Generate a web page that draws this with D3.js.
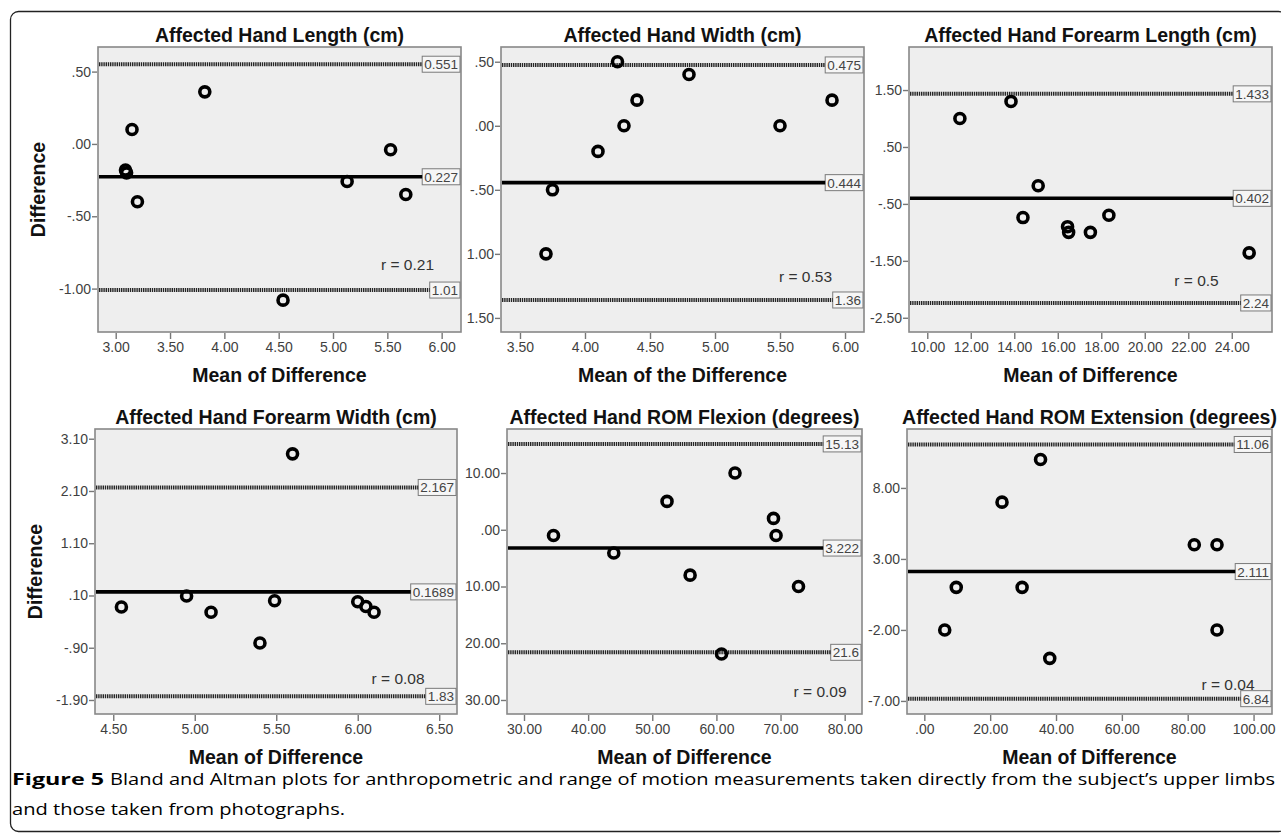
<!DOCTYPE html>
<html lang="en">
<head>
    <style>
        body { margin: 0; background: #fff; }
        svg { display: block; }
        text { font-family: "Liberation Sans", Arial, sans-serif; }
    </style>
</head>
<body>
    <svg width="1281" height="834"></svg>
    <script src="https://cdn.jsdelivr.net/npm/d3@7"></script>
    <script>
        /************************************************************************************
        * Data
        ************************************************************************************/
        const panelTitles = [
            "Affected Hand Length (cm)",
            "Affected Hand Width (cm)",
            "Affected Hand Forearm Length (cm)",
            "Affected Hand Forearm Width (cm)",
            "Affected Hand ROM Flexion (degrees)",
            "Affected Hand ROM Extension (degrees)"
        ];
        const xTitles = ["Mean of Difference", "Mean of the Difference", "Mean of Difference",
                         "Mean of Difference", "Mean of Difference", "Mean of Difference"];

        // points of each plot: mean (x) and difference (y)
        const handLengthX = [3.09, 3.10, 3.15, 3.20, 3.82, 4.54, 5.13, 5.53, 5.67];
        const handLengthY = [-0.18, -0.20, 0.10, -0.40, 0.36, -1.08, -0.26, -0.04, -0.35];
        const handWidthX = [3.70, 3.75, 4.10, 4.25, 4.30, 4.40, 4.80, 5.50, 5.90];
        const handWidthY = [-1.00, -0.50, -0.20, 0.50, 0.00, 0.20, 0.40, 0.00, 0.20];
        const forearmLengthX = [11.5, 13.85, 14.4, 15.1, 16.45, 16.5, 17.5, 18.35, 24.8];
        const forearmLengthY = [1.00, 1.30, -0.74, -0.18, -0.90, -1.00, -1.00, -0.70, -1.36];
        const forearmWidthX = [4.55, 4.95, 5.10, 5.40, 5.49, 5.60, 6.00, 6.05, 6.10];
        const forearmWidthY = [-0.12, 0.09, -0.22, -0.81, 0.00, 2.81, -0.02, -0.11, -0.22];
        const flexionX = [34.6, 44.0, 52.3, 55.9, 60.8, 62.9, 68.9, 69.3, 72.8];
        const flexionY = [-1.0, -4.1, 5.0, -8.0, -21.9, 10.0, 2.0, -1.0, -10.0];
        const extensionX = [6.2, 9.7, 23.6, 29.7, 35.3, 38.1, 82.0, 88.9, 88.9];
        const extensionY = [-2.0, 1.0, 7.0, 1.0, 10.0, -4.0, 4.0, 4.0, -2.0];

        const pointsX = [handLengthX, handWidthX, forearmLengthX, forearmWidthX, flexionX, extensionX];
        const pointsY = [handLengthY, handWidthY, forearmLengthY, forearmWidthY, flexionY, extensionY];

        // limits of agreement and mean difference
        const upperLimit = [0.551, 0.475, 1.433, 2.167, 15.13, 11.06];
        const meanDiff = [-0.227, -0.444, -0.402, 0.1689, -3.222, 2.111];
        const lowerLimit = [-1.01, -1.36, -2.24, -1.83, -21.6, -6.84];
        const upperLabels = ["0.551", "0.475", "1.433", "2.167", "15.13", "11.06"];
        const meanLabels = ["0.227", "0.444", "0.402", "0.1689", "3.222", "2.111"];
        const lowerLabels = ["1.01", "1.36", "2.24", "1.83", "21.6", "6.84"];
        const rLabels = ["r = 0.21", "r = 0.53", "r = 0.5", "r = 0.08", "r = 0.09", "r = 0.04"];

        // tick values and tick labels
        const xTicks = [
            [3, 3.5, 4, 4.5, 5, 5.5, 6],
            [3.5, 4, 4.5, 5, 5.5, 6],
            [10, 12, 14, 16, 18, 20, 22, 24],
            [4.5, 5, 5.5, 6, 6.5],
            [30, 40, 50, 60, 70, 80],
            [0, 20, 40, 60, 80, 100]
        ];
        const xTickLabels = [
            ["3.00", "3.50", "4.00", "4.50", "5.00", "5.50", "6.00"],
            ["3.50", "4.00", "4.50", "5.00", "5.50", "6.00"],
            ["10.00", "12.00", "14.00", "16.00", "18.00", "20.00", "22.00", "24.00"],
            ["4.50", "5.00", "5.50", "6.00", "6.50"],
            ["30.00", "40.00", "50.00", "60.00", "70.00", "80.00"],
            [".00", "20.00", "40.00", "60.00", "80.00", "100.00"]
        ];
        const yTicks = [
            [0.5, 0, -0.5, -1],
            [0.5, 0, -0.5, -1, -1.5],
            [1.5, 0.5, -0.5, -1.5, -2.5],
            [3.1, 2.1, 1.1, 0.1, -0.9, -1.9],
            [10, 0, -10, -20, -30],
            [8, 3, -2, -7]
        ];
        const yTickLabels = [
            [".50", ".00", "-.50", "-1.00"],
            [".50", ".00", "-.50", "1.00", "1.50"],
            ["1.50", ".50", "-.50", "-1.50", "-2.50"],
            ["3.10", "2.10", "1.10", ".10", "-.90", "-1.90"],
            ["10.00", ".00", "10.00", "20.00", "30.00"],
            ["8.00", "3.00", "-2.00", "-7.00"]
        ];

        /************************************************************************************
        * Layout
        ************************************************************************************/
        const boxes = [
            { left: 98, right: 461, top: 47, bottom: 332 },
            { left: 501, right: 864, top: 47, bottom: 332 },
            { left: 909, right: 1272, top: 47, bottom: 332 },
            { left: 95, right: 457, top: 429, bottom: 714 },
            { left: 507, right: 862, top: 429, bottom: 714 },
            { left: 907, right: 1272, top: 429, bottom: 714 }
        ];
        const xDomains = [[2.837, 6.178], [3.354, 6.146], [9.16, 25.85], [4.388, 6.609], [27.35, 82.7], [-5.26, 105.6]];
        const yDomains = [[-1.30, 0.67], [-1.61, 0.615], [-2.75, 2.256], [-2.168, 3.286], [-32.47, 17.76], [-7.92, 12.15]];
        // where the r annotation sits (data units: right end, baseline)
        const rPos = [[5.93, -0.87], [5.90, -1.22], [23.4, -1.95], [6.41, -1.60], [80.3, -29.5], [100.3, -6.2]];

        const svg = d3.select("svg");

        // outer frame
        svg.append("rect")
            .attr("x", 10.5).attr("y", 11.5)
            .attr("width", 1276).attr("height", 820)
            .attr("rx", 8)
            .attr("fill", "none")
            .attr("stroke", "#222")
            .attr("stroke-width", 1.3);

        panelTitles.forEach((title, i) => {
            const b = boxes[i];
            const x = d3.scaleLinear().domain(xDomains[i]).range([b.left, b.right]);
            const y = d3.scaleLinear().domain(yDomains[i]).range([b.bottom, b.top]);
            const g = svg.append("g");

            // plot background
            g.append("rect")
                .attr("x", b.left).attr("y", b.top)
                .attr("width", b.right - b.left).attr("height", b.bottom - b.top)
                .attr("fill", "#eeeeee")
                .attr("stroke", "#888")
                .attr("stroke-width", 1.6);

            // axes
            const yAxis = g.append("g")
                .attr("transform", `translate(${b.left - 1}, 0)`)
                .call(d3.axisLeft(y).tickValues(yTicks[i]).tickFormat((d, j) => yTickLabels[i][j]).tickSize(5).tickPadding(1));
            const xAxis = g.append("g")
                .attr("transform", `translate(0, ${b.bottom + 1})`)
                .call(d3.axisBottom(x).tickValues(xTicks[i]).tickFormat((d, j) => xTickLabels[i][j]).tickSize(6).tickPadding(3));
            [yAxis, xAxis].forEach(a => {
                a.select(".domain").remove();
                a.selectAll(".tick line").attr("stroke", "#777").attr("stroke-width", 1.4);
                a.selectAll(".tick text")
                    .attr("fill", "#3f3f3f")
                    .style("font-size", "14px")
                    .style("font-family", "'Liberation Sans', Arial, sans-serif");
            });

            // limit lines with label boxes
            const lines = [
                { value: upperLimit[i], label: upperLabels[i], mean: false },
                { value: meanDiff[i], label: meanLabels[i], mean: true },
                { value: lowerLimit[i], label: lowerLabels[i], mean: false }
            ];
            lines.forEach(l => {
                const ly = y(l.value);
                const label = g.append("text")
                    .attr("y", ly + 5)
                    .attr("fill", "#444")
                    .style("font-size", "13.5px")
                    .text(l.label);
                const w = label.node().getComputedTextLength() + 4;
                const bx = b.right - 1 - w;
                label.attr("x", bx + 2);
                g.insert("rect", () => label.node())
                    .attr("x", bx).attr("y", ly - 8)
                    .attr("width", w).attr("height", 16)
                    .attr("fill", "#f6f6f6")
                    .attr("stroke", "#7a7a7a")
                    .attr("stroke-width", 1);
                g.insert("line", () => label.node())
                    .attr("x1", b.left + 1).attr("x2", bx)
                    .attr("y1", ly).attr("y2", ly)
                    .attr("stroke", l.mean ? "#000" : "#252525")
                    .attr("stroke-width", l.mean ? 3.6 : 4)
                    .attr("stroke-dasharray", l.mean ? null : "1.4 0.8");
            });

            // points
            g.selectAll("circle.pt")
                .data(pointsX[i].map((v, j) => [v, pointsY[i][j]]))
                .enter()
                .append("circle")
                .attr("class", "pt")
                .attr("cx", d => x(d[0]))
                .attr("cy", d => y(d[1]))
                .attr("r", 5)
                .attr("fill", "none")
                .attr("stroke", "#000")
                .attr("stroke-width", 3.6);

            // correlation
            g.append("text")
                .attr("x", x(rPos[i][0]))
                .attr("y", y(rPos[i][1]))
                .attr("text-anchor", "end")
                .attr("fill", "#333")
                .style("font-size", "15.5px")
                .text(rLabels[i]);

            // titles
            g.append("text")
                .attr("x", (b.left + b.right) / 2)
                .attr("y", b.top - 5)
                .attr("text-anchor", "middle")
                .attr("font-weight", "bold")
                .style("font-size", "19.5px")
                .attr("fill", "#111")
                .text(title);
            g.append("text")
                .attr("x", (b.left + b.right) / 2)
                .attr("y", b.bottom + 50)
                .attr("text-anchor", "middle")
                .attr("font-weight", "bold")
                .style("font-size", "19.5px")
                .attr("fill", "#111")
                .text(xTitles[i]);
            if (i % 3 === 0) {
                g.append("text")
                    .attr("transform", `translate(${b.left - 53}, ${(b.top + b.bottom) / 2}) rotate(-90)`)
                    .attr("text-anchor", "middle")
                    .attr("font-weight", "bold")
                    .style("font-size", "19.5px")
                    .attr("fill", "#111")
                    .text("Difference");
            }
        });

        /************************************************************************************
        * Caption
        ************************************************************************************/
        const capFont = "'Open Sans', 'Noto Sans', sans-serif";
        svg.append("text")
            .attr("x", 12).attr("y", 785)
            .attr("font-weight", "bold")
            .style("font-family", capFont)
            .style("font-size", "16.5px")
            .attr("textLength", 92).attr("lengthAdjust", "spacingAndGlyphs")
            .text("Figure 5");
        svg.append("text")
            .attr("x", 110).attr("y", 785)
            .style("font-family", capFont)
            .style("font-size", "16.5px")
            .attr("textLength", 1165).attr("lengthAdjust", "spacingAndGlyphs")
            .text("Bland and Altman plots for anthropometric and range of motion measurements taken directly from the subject\u2019s upper limbs");
        svg.append("text")
            .attr("x", 12).attr("y", 815)
            .style("font-family", capFont)
            .style("font-size", "16.5px")
            .attr("textLength", 333).attr("lengthAdjust", "spacingAndGlyphs")
            .text("and those taken from photographs.");
    </script>
</body>
</html>
